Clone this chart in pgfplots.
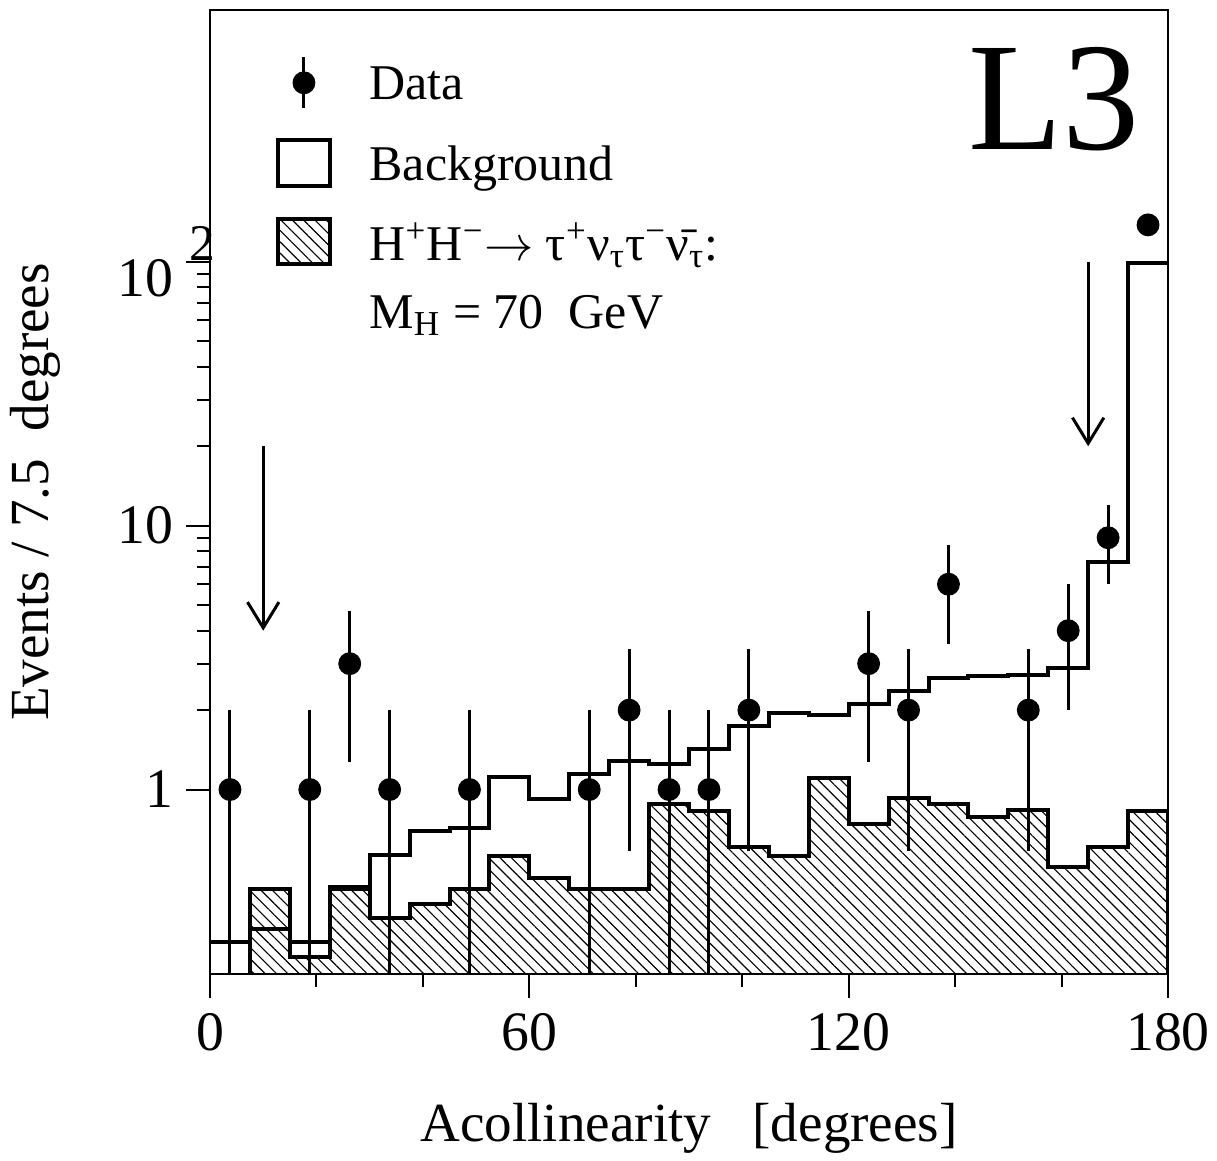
\documentclass[border=0pt]{standalone}
\usepackage{fontspec}
\setmainfont{Liberation Serif}
\usepackage{pgfplots}
\pgfplotsset{compat=1.18}
\usetikzlibrary{patterns.meta,arrows.meta}

% background expectation, per 7.5 degree bin (left edges)
\pgfplotstableread{
x    y
0    0.265
7.5  0.297
15   0.265
22.5 0.428
30   0.567
37.5 0.698
45   0.716
52.5 1.117
60   0.922
67.5 1.146
75   1.284
82.5 1.25
90   1.426
97.5 1.742
105  1.953
112.5 1.919
120  2.11
127.5 2.365
135  2.65
142.5 2.70
150  2.72
157.5 2.89
165  7.29
172.5 98.9
180  98.9
}\bkg

% H+H- signal, M_H = 70 GeV
\pgfplotstableread{
x    y
0    0.1
7.5  0.421
15   0.232
22.5 0.42
30   0.327
37.5 0.369
45   0.421
52.5 0.561
60   0.463
67.5 0.421
75   0.421
82.5 0.881
90   0.829
97.5 0.607
105  0.561
112.5 1.107
120  0.741
127.5 0.930
135  0.881
142.5 0.788
150  0.838
157.5 0.510
165  0.607
172.5 0.829
180  0.829
180  0.1
}\sig

\tikzset{hatch/.style={pattern={Lines[angle=-45,distance=2.8pt,line width=0.4pt]}}}

\begin{document}
\begin{tikzpicture}
\begin{axis}[
    scale only axis,
    width=335.3pt, height=337.4pt,
    ymode=log,
    xmin=0, xmax=180,
    ymin=0.2, ymax=900,
    xtick={0,60,120,180},
    xticklabels={0,60,120,180},
    minor xtick={20,40,80,100,140,160},
    ytick={1,10,100},
    yticklabels={1,10,{10\rlap{\raisebox{0.66em}{\hspace{5.5pt}\fontsize{18}{20}\selectfont 2}}}},
    xtick pos=bottom, ytick pos=left,
    tick align=outside,
    major tick length=8.4pt, minor tick length=4.5pt,
    every tick/.style={line width=0.7pt, black},
    axis line style={line width=1pt},
    tick label style={font=\fontsize{19.5}{22}\selectfont},
    xticklabel style={yshift=-2pt},
    yticklabel style={xshift=-0.8pt},
    xlabel={Acollinearity~~~[degrees]},
    ylabel={Events / 7.5~~degrees},
    every axis x label/.style={at={(rel axis cs:0.5,0)}, anchor=center, yshift=-53.9pt,
        font=\fontsize{19.3}{22}\selectfont},
    every axis y label/.style={at={(rel axis cs:0,0.5)}, rotate=90, anchor=center, yshift=61.25pt,
        font=\fontsize{19.3}{22}\selectfont},
    legend style={at={(rel axis cs:0.0678,0.953)}, anchor=north west, draw=none, fill=none,
        font=\fontsize{17.5}{21}\selectfont, row sep=10pt, inner sep=0pt,
        column sep=0pt, nodes={inner sep=0pt, text depth=0pt}},
    legend cell align=left,
    clip=true,
]

\addplot[const plot, line width=1.4pt, hatch, forget plot]
    table[x=x, y=y] {\sig};

\addplot[const plot, line width=1.4pt, forget plot]
    table[x=x, y=y] {\bkg};

\addplot[only marks, mark=*, mark size=3.8pt, black, forget plot,
    error bars/.cd, y dir=both, y explicit,
    error bar style={line width=1.05pt}, error mark=none]
    coordinates {
    (3.75,1) += (0,1) -= (0,0.95)
    (18.75,1) += (0,1) -= (0,0.95)
    (26.25,3) += (0,1.732) -= (0,1.732)
    (33.75,1) += (0,1) -= (0,0.95)
    (48.75,1) += (0,1) -= (0,0.95)
    (71.25,1) += (0,1) -= (0,0.95)
    (78.75,2) += (0,1.414) -= (0,1.414)
    (86.25,1) += (0,1) -= (0,0.95)
    (93.75,1) += (0,1) -= (0,0.95)
    (101.25,2) += (0,1.414) -= (0,1.414)
    (123.75,3) += (0,1.732) -= (0,1.732)
    (131.25,2) += (0,1.414) -= (0,1.414)
    (138.75,6) += (0,2.449) -= (0,2.449)
    (153.75,2) += (0,1.414) -= (0,1.414)
    (161.25,4) += (0,2) -= (0,2)
    (168.75,9) += (0,3) -= (0,3)
    (176.25,138) += (0,11.7) -= (0,11.7)
    };

% legend entries
\addlegendimage{legend image code/.code={
    \path[draw=none, fill=none] (0pt,-8pt) rectangle (18.5pt,8pt);
    \draw[line width=1.05pt] (9.25pt,-8.9pt) -- (9.25pt,8.9pt);
    \fill (9.25pt,0pt) circle (3.8pt);}}
\addlegendentry{\hspace{13pt}Data}
\addlegendimage{legend image code/.code={
    \draw[line width=1.4pt] (0pt,-8pt) rectangle (18.5pt,8pt);}}
\addlegendentry{\hspace{13pt}Background}
\addlegendimage{legend image code/.code={
    \draw[line width=1.4pt, hatch] (0pt,-8pt) rectangle (18.5pt,8pt);}}
\addlegendentry{\hspace{13pt}H\textsuperscript{+}H\textsuperscript{−}$\rightarrow$ τ\textsuperscript{+}ν\textsubscript{τ}τ\textsuperscript{−}\={ν}\textsubscript{τ}:}
\addlegendimage{empty legend}
\addlegendentry{\hspace{13pt}M\textsubscript{H} = 70~~GeV}

% selection cuts
\draw[line width=1.05pt, -{Straight Barb[length=9pt,width=11pt]}] (axis cs:10,20) -- (axis cs:10,4);
\draw[line width=1.05pt, -{Straight Barb[length=9pt,width=11pt]}] (axis cs:165,100) -- (axis cs:165,20);

\node[anchor=base east, font=\fontsize{54}{60}\selectfont, inner sep=0pt] at (rel axis cs:0.971,0.855) {L3};

\coordinate (SW) at (rel axis cs:0,0);
\coordinate (NE) at (rel axis cs:1,1);
\end{axis}
\pgfresetboundingbox
\path[use as bounding box] ([shift={(-73.5pt,-65.45pt)}]SW) rectangle ([shift={(17.15pt,3.5pt)}]NE);
\end{tikzpicture}
\end{document}
